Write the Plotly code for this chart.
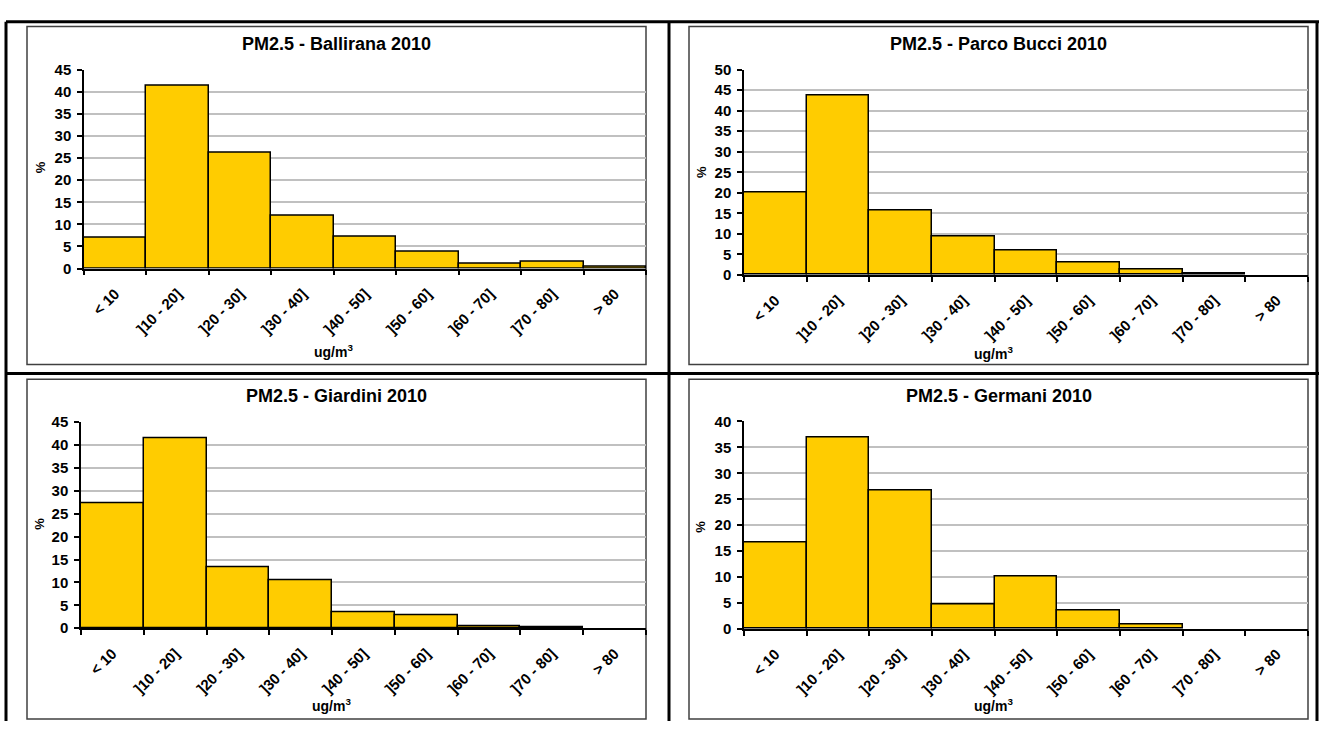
import plotly.graph_objects as go

W, H = 1319, 729
FONT = "Liberation Sans, Arial, sans-serif"

# ── Data ─────────────────────────────────────────────────────────────────────
CATEGORIES = ["< 10", "]10 - 20]", "]20 - 30]", "]30 - 40]", "]40 - 50]",
              "]50 - 60]", "]60 - 70]", "]70 - 80]", "> 80"]

BALLIRANA = [6.9, 41.3, 26.3, 11.9, 7.2, 3.7, 1.0, 1.6, 0.3]
PARCO_BUCCI = [20.0, 43.7, 15.6, 9.3, 5.9, 3.1, 1.4, 0.3, 0.0]
GIARDINI = [27.4, 41.4, 13.4, 10.4, 3.6, 2.8, 0.5, 0.3, 0.0]
GERMANI = [16.6, 37.0, 26.7, 4.8, 10.1, 3.6, 0.9, 0.0, 0.0]

TITLES = ["PM2.5 - Ballirana 2010", "PM2.5 - Parco Bucci 2010",
          "PM2.5 - Giardini 2010", "PM2.5 - Germani 2010"]
SERIES = [BALLIRANA, PARCO_BUCCI, GIARDINI, GERMANI]
Y_MAX = [45, 50, 45, 40]

# ── Geometry (pixels) ────────────────────────────────────────────────────────
# frame box, plot box, title y, x-title (x, y), y-title (x, y)
PANELS = [
    dict(frame=(27, 18, 646, 364), plot=(84, 62.3, 646, 265.7),
         title_y=36, xt=(333, 350), yt=(40, 162)),
    dict(frame=(689, 18, 1308, 364), plot=(744, 62, 1308, 272.3),
         title_y=36, xt=(993, 352), yt=(701, 167)),
    dict(frame=(27, 379, 646, 727), plot=(81, 423, 646, 634),
         title_y=396, xt=(331, 713), yt=(40, 527)),
    dict(frame=(689, 379, 1308, 727), plot=(744, 422.3, 1308, 634.7),
         title_y=396, xt=(993, 713), yt=(701, 530)),
]


def fx(x):
    return x / W


def fy(y):
    return 1 - y / H


fig = go.Figure()
shapes, annotations = [], []

for i, (vals, title, ymax, p) in enumerate(zip(SERIES, TITLES, Y_MAX, PANELS)):
    n = "" if i == 0 else str(i + 1)
    # no outline on empty classes (Excel draws nothing there)
    outline = [1.5 if v > 0 else 0 for v in vals]
    fig.add_trace(go.Bar(
        x=CATEGORIES, y=vals, xaxis="x" + n, yaxis="y" + n,
        marker=dict(color="#FFCC00", line=dict(color="#000000", width=outline)),
        showlegend=False, hoverinfo="x+y",
    ))
    px0, py0, px1, py1 = p["plot"]
    fig.update_layout(**{
        "xaxis" + n: dict(
            domain=[fx(px0), fx(px1)], anchor="y" + n,
            type="category", range=[-0.5, 8.5],
            tickson="boundaries", ticks="outside", ticklen=5,
            tickwidth=1.5, tickcolor="#000000",
            showline=True, linecolor="#000000", linewidth=1.5,
            showgrid=False, tickangle=-45, ticklabelstandoff=9,
            tickfont=dict(family=FONT, size=15, color="#000000", weight="bold"),
            fixedrange=True,
        ),
        "yaxis" + n: dict(
            domain=[fy(py1), fy(py0)], anchor="x" + n,
            range=[0, ymax], dtick=5, ticks="outside", ticklen=5,
            tickwidth=1.5, tickcolor="#000000",
            showline=True, linecolor="#000000", linewidth=1.5,
            showgrid=True, gridcolor="#C0C0C0", gridwidth=1.5,
            zeroline=False, ticklabelstandoff=3,
            tickfont=dict(family=FONT, size=15, color="#000000", weight="bold"),
            fixedrange=True,
        ),
    })

    fx0, fy0, fx1, fy1 = p["frame"]
    shapes.append(dict(type="rect", xref="paper", yref="paper",
                       x0=fx(fx0), x1=fx(fx1), y0=fy(fy1), y1=fy(fy0),
                       line=dict(color="#404040", width=1.5), layer="below"))
    annotations.append(dict(text="<b>" + title + "</b>", xref="paper", yref="paper",
                            x=fx((fx0 + fx1) / 2), y=fy(p["title_y"]),
                            xanchor="center", yanchor="middle", showarrow=False,
                            font=dict(family=FONT, size=18, color="#000000")))
    annotations.append(dict(text="<b>ug/m<sup>3</sup></b>", xref="paper", yref="paper",
                            x=fx(p["xt"][0]), y=fy(p["xt"][1]),
                            xanchor="center", yanchor="middle", showarrow=False,
                            font=dict(family=FONT, size=14, color="#000000")))
    annotations.append(dict(text="<b>%</b>", xref="paper", yref="paper",
                            x=fx(p["yt"][0]), y=fy(p["yt"][1]), textangle=-90,
                            xanchor="center", yanchor="middle", showarrow=False,
                            font=dict(family=FONT, size=13, color="#000000")))

# ── Table borders ────────────────────────────────────────────────────────────
TABLE_LINES = [(6, 13, 1319, 13), (6, 13, 6, 729), (669, 13, 669, 729),
               (6, 373.3, 1319, 373.3), (1317, 13, 1317, 729)]
for x0, y0, x1, y1 in TABLE_LINES:
    shapes.append(dict(type="line", xref="paper", yref="paper",
                       x0=fx(x0), x1=fx(x1), y0=fy(y0), y1=fy(y1),
                       line=dict(color="#000000", width=3)))

fig.update_layout(
    width=W, height=H,
    margin=dict(l=0, r=0, t=0, b=0),
    paper_bgcolor="#FFFFFF", plot_bgcolor="#FFFFFF",
    bargap=0, shapes=shapes, annotations=annotations,
    font=dict(family=FONT, color="#000000"),
)

fig.write_html("out.html", config={"displayModeBar": False},
               post_script="document.body.style.margin='0';"
                           "document.body.style.overflow='hidden';")
